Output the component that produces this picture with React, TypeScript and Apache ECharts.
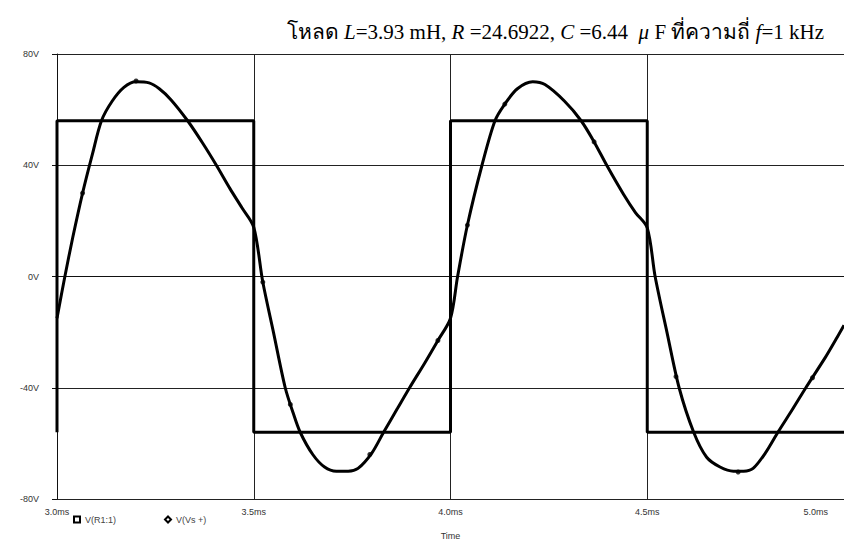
import React, { useEffect, useRef } from "react";
import * as echarts from "echarts";

// Time axis (ms) and voltage axis ticks
const xTicks = [3.0, 3.5, 4.0, 4.5, 5.0];
const yTicks = [-80, -40, 0, 40, 80];

// V(R1:1) — resistor voltage
const respTime = [
  3.0, 3.02, 3.04, 3.065, 3.09, 3.113, 3.14, 3.17, 3.201, 3.234, 3.26, 3.29, 3.332, 3.37, 3.405, 3.44, 3.47, 3.5,
  3.523, 3.55, 3.58, 3.6, 3.618, 3.65, 3.68, 3.71, 3.74, 3.765, 3.8, 3.83, 3.865, 3.896, 3.935, 3.968, 4.0,
  4.018, 4.043, 4.08, 4.113, 4.138, 4.17, 4.209, 4.24, 4.29, 4.332, 4.365, 4.397, 4.44, 4.47, 4.5,
  4.52, 4.55, 4.581, 4.618, 4.651, 4.685, 4.719, 4.745, 4.769, 4.8, 4.832, 4.868, 4.903, 4.953, 4.98, 5.0,
];
const respVolt = [
  -15, 0, 14, 30, 44, 56, 63, 68, 70, 69.6, 67.5, 63.5, 56, 48, 40, 31.5, 24.7, 17.7,
  -2, -20, -40, -49, -56, -64, -68.5, -70, -70, -69, -63.5, -56, -47.5, -40, -31, -23, -15,
  0, 18.5, 40, 56, 62, 67.5, 70, 69, 63, 56, 48.4, 40, 29.5, 23, 17.5,
  0, -20, -40, -56, -65, -68.5, -70, -70, -69, -63.5, -56, -48, -40, -29, -22.5, -17.5,
];

// markers drawn on V(R1:1)
const markTime = [3.065, 3.201, 3.523, 3.593, 3.795, 3.968, 4.043, 4.138, 4.365, 4.573, 4.731, 4.92];
const markVolt = [30, 70.3, -2, -46, -64, -23, 18.5, 62, 48.4, -36, -70.3, -36.4];

// V(Vs +) — square wave source
const srcTime = [3.0, 3.0, 3.5, 3.5, 4.0, 4.0, 4.5, 4.5, 5.0];
const srcVolt = [-56, 56, 56, -56, -56, 56, 56, -56, -56];

const seriesNames = ["V(R1:1)", "V(Vs +)"];

export default function App() {
  const ref = useRef<HTMLDivElement>(null);
  useEffect(() => {
    if (!ref.current) return;
    const chart = echarts.init(ref.current, undefined, { renderer: "svg" });
    const axisFont = "Liberation Sans";
    chart.setOption({
      animation: false,
      backgroundColor: "#ffffff",
      title: {
        text: "โหลด {i|L}=3.93 mH, {i|R} =24.6922, {i|C} =6.44  {i|μ} F ที่ความถี่ {i|f}=1 kHz",
        right: 15,
        top: 16,
        textStyle: {
          fontFamily: "Liberation Serif",
          fontSize: 21,
          fontWeight: "normal",
          color: "#000",
          rich: {
            i: { fontFamily: "Liberation Serif", fontSize: 21, fontStyle: "italic", color: "#000" },
          },
        },
      },
      legend: {
        left: 68,
        top: 510,
        itemWidth: 6,
        itemHeight: 6,
        itemGap: 48,
        textStyle: { fontFamily: axisFont, fontSize: 9, color: "#444" },
        data: [
          { name: seriesNames[0], icon: "emptyRect" },
          { name: seriesNames[1], icon: "emptyDiamond" },
        ],
      },
      grid: { left: 57, right: -8, top: 54, bottom: 48 },
      xAxis: {
        type: "value",
        min: xTicks[0],
        max: xTicks[xTicks.length - 1],
        interval: 0.5,
        name: "Time",
        nameLocation: "middle",
        nameGap: 32,
        nameTextStyle: { fontFamily: axisFont, fontSize: 9, color: "#333" },
        axisLine: { lineStyle: { color: "#111", width: 1 } },
        axisTick: { length: 5, lineStyle: { color: "#111" } },
        splitLine: { show: true, lineStyle: { color: "#222", width: 1 } },
        axisLabel: {
          fontFamily: axisFont,
          fontSize: 9,
          color: "#333",
          margin: 8,
          alignMaxLabel: "right",
          formatter: (v: number) => (v === 5 ? "{e|" + v.toFixed(1) + "ms}" : v.toFixed(1) + "ms"),
          rich: { e: { fontFamily: axisFont, fontSize: 9, color: "#333", padding: [0, 16, 0, 0] } },
        },
      },
      yAxis: {
        type: "value",
        min: yTicks[0],
        max: yTicks[yTicks.length - 1],
        interval: 40,
        axisLine: { show: true, lineStyle: { color: "#111", width: 1 } },
        axisTick: { show: true, length: 5, lineStyle: { color: "#111" } },
        splitLine: { show: true, lineStyle: { color: "#222", width: 1 } },
        axisLabel: {
          fontFamily: axisFont,
          fontSize: 9,
          color: "#333",
          margin: 18,
          formatter: (v: number) => v + "V",
        },
      },
      series: [
        {
          name: seriesNames[0],
          type: "line",
          smooth: 0.3,
          showSymbol: false,
          color: "#000",
          lineStyle: { color: "#000", width: 3 },
          data: respTime.map((t, i) => [t, respVolt[i]]),
          z: 3,
        },
        {
          name: seriesNames[0] + " marks",
          type: "scatter",
          symbol: "circle",
          symbolSize: 5,
          itemStyle: { color: "#000" },
          data: markTime.map((t, i) => [t, markVolt[i]]),
          z: 4,
        },
        {
          name: seriesNames[1],
          type: "line",
          showSymbol: false,
          color: "#000",
          lineStyle: { color: "#000", width: 3 },
          data: srcTime.map((t, i) => [t, srcVolt[i]]),
          z: 2,
        },
      ],
    });
    return () => chart.dispose();
  }, []);
  return (
    <div
      ref={ref}
      style={{ position: "fixed", left: 0, top: 0, width: 844, height: 547, background: "#fff" }}
    />
  );
}
